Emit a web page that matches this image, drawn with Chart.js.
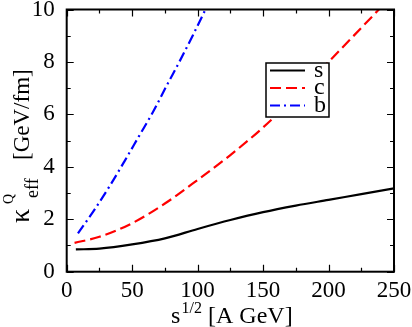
<!DOCTYPE html>
<html>
<head>
<meta charset="utf-8">
<script src="https://cdn.jsdelivr.net/npm/chart.js@4.4.0/dist/chart.umd.min.js"></script>
<style>
  html, body { margin: 0; padding: 0; background: #fff; }
  #wrap { width: 412px; height: 327px; }
</style>
</head>
<body>
<div id="wrap"><canvas id="kappaChart" width="412" height="327"></canvas></div>
<script>
// values: sqrt(s) [A GeV] -> kappa_eff [GeV/fm]
const sX = [7, 25, 50, 75, 100, 125, 150, 175, 200, 225, 250];
const sY = [0.85, 0.88, 1.04, 1.27, 1.63, 1.97, 2.27, 2.52, 2.74, 2.96, 3.18];

const cX = [6, 25, 50, 75, 100, 125, 150, 175, 200, 225, 250];
const cY = [1.1, 1.33, 1.85, 2.6, 3.5, 4.45, 5.5, 6.7, 8.0, 9.3, 10.6];

const bX = [8.6, 21, 32.5, 44, 55, 66, 76, 86, 96.5, 106, 112];
const bY = [1.46, 2.35, 3.24, 4.2, 5.15, 6.1, 7.06, 8.0, 9.03, 10.0, 10.6];

const xTicks = [0, 50, 100, 150, 200, 250];
const yTicks = [0, 2, 4, 6, 8, 10];

const FONT = '"Liberation Serif", Tinos, serif';

function pts(xs, ys) {
    return xs.map((x, i) => ({ x: x, y: ys[i] }));
}

// frame, inward ticks on all four sides, axis titles and legend box
const decorPlugin = {
    id: 'decor',
    afterDraw(chart) {
        const ctx = chart.ctx;
        const a = chart.chartArea;
        const xs = chart.scales.x;
        const ys = chart.scales.y;
        ctx.save();
        ctx.strokeStyle = '#000';
        ctx.lineWidth = 2;
        ctx.strokeRect(a.left, a.top, a.right - a.left, a.bottom - a.top);

        ctx.lineWidth = 1.2;
        ctx.beginPath();
        for (let v = 0; v <= 250; v += 25) {
            const px = Math.round(xs.getPixelForValue(v)) + 0.5;
            const len = v % 50 === 0 ? 7 : 4;
            ctx.moveTo(px, a.bottom); ctx.lineTo(px, a.bottom - len);
            ctx.moveTo(px, a.top); ctx.lineTo(px, a.top + len);
        }
        for (let v = 0; v <= 10; v += 1) {
            const py = Math.round(ys.getPixelForValue(v)) + 0.5;
            const len = v % 2 === 0 ? 7 : 4;
            ctx.moveTo(a.left, py); ctx.lineTo(a.left + len, py);
            ctx.moveTo(a.right, py); ctx.lineTo(a.right - len, py);
        }
        ctx.stroke();

        // x axis title: s^{1/2} [A GeV]
        ctx.fillStyle = '#000';
        ctx.textBaseline = 'alphabetic';
        ctx.textAlign = 'left';
        ctx.font = '24px ' + FONT;
        ctx.fillText('s', 171, 323);
        ctx.font = '16px ' + FONT;
        ctx.fillText('1/2', 181.5, 313);
        ctx.font = '24px ' + FONT;
        ctx.fillText('[A GeV]', 208, 323);

        // y axis title: kappa^Q_eff [GeV/fm], rotated
        ctx.translate(28.5, 223);
        ctx.rotate(-Math.PI / 2);
        ctx.font = '28px ' + FONT;
        ctx.fillText('\u03ba', 0, 0);
        ctx.font = '14px ' + FONT;
        ctx.fillText('Q', 19, -15.5);
        ctx.font = '18px ' + FONT;
        ctx.fillText('eff', 25, 9.5);
        ctx.font = '23px ' + FONT;
        ctx.fillText('[GeV/fm]', 63, 0);
        ctx.restore();

        // legend box
        ctx.save();
        const lx = 266, ly = 63, lw = 63, lh = 54;
        ctx.fillStyle = '#fff';
        ctx.fillRect(lx, ly, lw, lh);
        ctx.strokeStyle = '#000';
        ctx.lineWidth = 1.5;
        ctx.strokeRect(lx, ly, lw, lh);
        const rows = [70.5, 88, 105.5];
        chart.data.datasets.forEach((ds, i) => {
            const yy = rows[i];
            ctx.strokeStyle = ds.borderColor;
            ctx.lineWidth = ds.borderWidth;
            ctx.setLineDash(ds.borderDash || []);
            ctx.beginPath();
            ctx.moveTo(270, yy);
            ctx.lineTo(305, yy);
            ctx.stroke();
            ctx.setLineDash([]);
            ctx.fillStyle = '#000';
            ctx.font = '24px ' + FONT;
            ctx.textBaseline = 'alphabetic';
            ctx.fillText(ds.label, 314, yy + 6);
        });
        ctx.restore();
    }
};

new Chart(document.getElementById('kappaChart'), {
    type: 'line',
    data: {
        datasets: [
            {
                label: 's',
                data: pts(sX, sY),
                borderColor: '#000000',
                borderWidth: 2.2,
                cubicInterpolationMode: 'monotone'
            },
            {
                label: 'c',
                data: pts(cX, cY),
                borderColor: '#ff0000',
                borderWidth: 2.2,
                borderDash: [11, 5],
                cubicInterpolationMode: 'monotone'
            },
            {
                label: 'b',
                data: pts(bX, bY),
                borderColor: '#0000ff',
                borderWidth: 2.2,
                borderDash: [10, 4, 2, 4],
                cubicInterpolationMode: 'monotone'
            }
        ]
    },
    options: {
        responsive: false,
        animation: false,
        clip: 0,
        elements: { point: { radius: 0 } },
        layout: { padding: { top: 9.5, right: 18, left: 0, bottom: 0 } },
        plugins: {
            legend: { display: false },
            tooltip: { enabled: false }
        },
        scales: {
            x: {
                type: 'linear',
                min: 0,
                max: 250,
                afterBuildTicks: s => { s.ticks = xTicks.map(v => ({ value: v })); },
                afterFit: s => { s.height = 55.3; s.paddingLeft = 0; s.paddingRight = 0; },
                grid: { display: false },
                border: { display: false },
                ticks: {
                    color: '#000',
                    padding: -3,
                    maxRotation: 0,
                    font: { family: FONT, size: 23 }
                }
            },
            y: {
                type: 'linear',
                min: 0,
                max: 10,
                afterBuildTicks: s => { s.ticks = yTicks.map(v => ({ value: v })); },
                afterFit: s => { s.width = 66.7; s.paddingTop = 0; s.paddingBottom = 0; },
                grid: { display: false },
                border: { display: false },
                ticks: {
                    color: '#000',
                    padding: 4,
                    font: { family: FONT, size: 23 }
                }
            }
        }
    },
    plugins: [decorPlugin]
});
</script>
</body>
</html>
